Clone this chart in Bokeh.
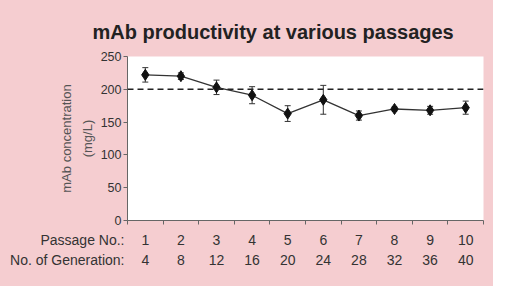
from bokeh.plotting import figure
from bokeh.models import (ColumnDataSource, Whisker, TeeHead, Span, LinearAxis,
                          FixedTicker, Range1d)
from bokeh.layouts import column
from bokeh.core.properties import value
from bokeh.embed import file_html
from bokeh.resources import INLINE

# ---- data ----
passages = [1, 2, 3, 4, 5, 6, 7, 8, 9, 10]
generations = [4, 8, 12, 16, 20, 24, 28, 32, 36, 40]
conc = [222, 220, 203, 191, 163, 184, 160, 170, 168, 172]
err = [11, 5, 11, 13, 12, 22, 7, 3, 6, 10]
target = 200
y_ticks = [0, 50, 100, 150, 200, 250]
row_names = ["Passage No.:", "No. of Generation:"]
title_text = "mAb productivity at various passages"

FONT = "Liberation Sans"
PINK = "#f5cdd0"
W = 493
H_HEAD, H_TOP, H_BOT = 48, 180, 58
LEFT, RIGHT = 127, 10

src = ColumnDataSource(dict(
    x=passages, y=conc,
    upper=[c + e for c, e in zip(conc, err)],
    lower=[c - e for c, e in zip(conc, err)],
))

xr = Range1d(0.5, 10.5)


def blank(p):
    p.border_fill_color = PINK
    p.outline_line_color = None
    p.xgrid.visible = False
    p.ygrid.visible = False


# ---- header strip with the title ----
p0 = figure(width=W, height=H_HEAD, output_backend="svg", toolbar_location=None,
            x_range=xr, y_range=Range1d(0, 1),
            x_axis_location=None, y_axis_location=None, title=title_text,
            min_border_left=LEFT, min_border_right=RIGHT, min_border_top=H_HEAD - 1,
            min_border_bottom=0)
blank(p0)
p0.background_fill_color = PINK
p0.title.text_font = FONT
p0.title.text_font_size = "20px"
p0.title.text_font_style = "bold"
p0.title.text_color = "#222"
p0.title.align = "left"
p0.title.offset = -35

# ---- main plot ----
p = figure(width=W, height=H_TOP, output_backend="svg", toolbar_location=None,
           x_range=xr, y_range=Range1d(0, 250),
           x_axis_location=None, y_axis_location="left", title_location=None,
           min_border_left=LEFT, min_border_right=RIGHT, min_border_top=8, min_border_bottom=8)
blank(p)
p.background_fill_color = "white"

ya = p.yaxis[0]
ya.ticker = FixedTicker(ticks=y_ticks)
ya.axis_line_color = "#666"
ya.major_tick_line_color = "#666"
ya.major_tick_out = 4
ya.major_tick_in = 0
ya.minor_tick_line_color = None
ya.major_label_text_font = FONT
ya.major_label_text_font_size = "12.5px"
ya.major_label_text_color = "#333"
ya.major_label_standoff = 2
ya.axis_label = "mAb concentration\n(mg/L)"
ya.axis_label_text_font = FONT
ya.axis_label_text_font_size = "13px"
ya.axis_label_text_font_style = "normal"
ya.axis_label_text_color = "#555"
ya.axis_label_text_line_height = 1.35
ya.axis_label_standoff = 3

# x axis: tick marks between the passages
xa = LinearAxis(ticker=FixedTicker(ticks=[],
                                   minor_ticks=[v - 0.5 for v in passages] + [passages[-1] + 0.5]))
xa.axis_line_color = "#666"
xa.major_tick_line_color = None
xa.minor_tick_line_color = "#666"
xa.minor_tick_out = 4
xa.minor_tick_in = 0
xa.major_label_standoff = 0
p.add_layout(xa, "below")

# reference line
p.add_layout(Span(location=target, dimension="width", line_color="#222",
                  line_dash="6 4", line_width=1.5))

# error bars
p.add_layout(Whisker(base="x", upper="upper", lower="lower", source=src,
                     line_color="#333", line_width=1,
                     upper_head=TeeHead(size=6, line_color="#333"),
                     lower_head=TeeHead(size=6, line_color="#333")))

p.line("x", "y", source=src, line_color="#333", line_width=1.3)
p.scatter("x", "y", source=src, marker="diamond", size=11,
          fill_color="#111", line_color="#111")

# ---- bottom strip: passage / generation rows on the same x scale ----
ROW1, ROW2 = H_BOT - 11, H_BOT - 31
p2 = figure(width=W, height=H_BOT, output_backend="svg", toolbar_location=None,
            x_range=xr, y_range=Range1d(0, H_BOT),
            x_axis_location=None, y_axis_location="left", title_location=None,
            min_border_left=LEFT, min_border_right=RIGHT, min_border_top=0, min_border_bottom=0)
blank(p2)
p2.background_fill_color = PINK

ra = p2.yaxis[0]
ra.ticker = FixedTicker(ticks=[ROW1, ROW2], minor_ticks=[])
ra.major_label_overrides = {ROW1: row_names[0], ROW2: row_names[1]}
ra.axis_line_color = None
ra.major_tick_line_color = None
ra.minor_tick_line_color = None
ra.major_tick_out = 0
ra.major_tick_in = 0
ra.major_label_standoff = 3
ra.major_label_text_font = FONT
ra.major_label_text_font_size = "14px"
ra.major_label_text_color = "#333"

txt = dict(text_font=value(FONT), text_font_size="14px", text_color="#333",
           text_baseline="middle", text_align="center")
p2.text(x=passages, y=[ROW1] * len(passages), text=[str(v) for v in passages], **txt)
p2.text(x=passages, y=[ROW2] * len(passages), text=[str(g) for g in generations], **txt)

layout = column(p0, p, p2, spacing=0, styles={"background-color": PINK})
open("out.html", "w").write(file_html(layout, INLINE))
